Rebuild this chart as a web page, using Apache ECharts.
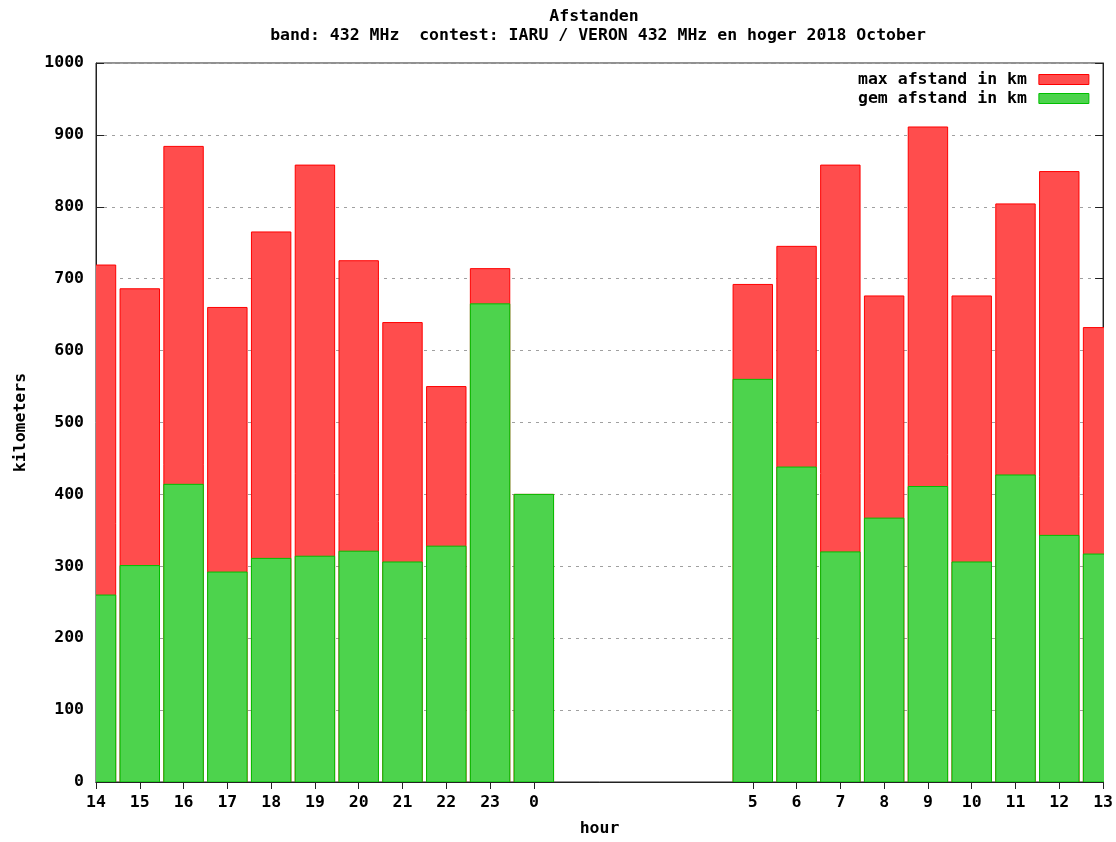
<!DOCTYPE html>
<html>
<head>
<meta charset="utf-8">
<script src="https://cdn.jsdelivr.net/npm/echarts@6/dist/echarts.min.js"></script>
<style>
html,body{margin:0;padding:0;background:#fff;overflow:hidden;}
#chart{width:1116px;height:842px;}
</style>
</head>
<body>
<div id="chart"></div>
<script>
// hours on the x axis (hours 1-4 have no data)
var hours = ['14','15','16','17','18','19','20','21','22','23','0','1','2','3','4','5','6','7','8','9','10','11','12','13'];
// max afstand in km
var maxAfstand = [719, 686, 884, 660, 765, 858, 725, 639, 550, 714, 400, null, null, null, null, 692, 745, 858, 676, 911, 676, 804, 849, 632];
// gem afstand in km
var gemAfstand = [260, 301, 414, 292, 311, 314, 321, 306, 328, 665, 400, null, null, null, null, 560, 438, 320, 367, 411, 306, 427, 343, 317];
var yTicks = [0, 100, 200, 300, 400, 500, 600, 700, 800, 900, 1000];

var FONT = 'DejaVu Sans Mono';
var txt = {fontFamily: FONT, fontWeight: 'bold', fontSize: 16.5, color: '#000'};

var RED = {color: '#ff4d4d', borderColor: '#ff0000', borderWidth: 1};
var GREEN = {color: '#4dd34d', borderColor: '#00c000', borderWidth: 1};

function hasData(i) { return maxAfstand[i] !== null; }
function pairs(arr) {
  var out = [];
  arr.forEach(function (v, i) { if (v !== null) out.push([i, v]); });
  return out;
}
function renderBar(params, api) {
  var idx = api.value(0);
  var val = api.value(1);
  var top = api.coord([idx, val]);
  var base = api.coord([idx, 0]);
  var w = api.size([1, 0])[0] * 0.9;
  return {
    type: 'rect',
    shape: {x: top[0] - w / 2, y: top[1], width: w, height: base[1] - top[1]},
    style: api.style()
  };
}

var chart = echarts.init(document.getElementById('chart'), null, {renderer: 'canvas'});
chart.setOption({
  animation: false,
  backgroundColor: '#fff',
  title: [
    {text: 'Afstanden', left: 589, top: 3, textAlign: 'center',
     textStyle: Object.assign({}, txt)},
    {text: 'band: 432 MHz  contest: IARU / VERON 432 MHz en hoger 2018 October', left: 593, top: 22, textAlign: 'center',
     textStyle: Object.assign({}, txt)}
  ],
  legend: {
    orient: 'vertical', left: 853, top: 66, align: 'right',
    itemWidth: 50, itemHeight: 10, itemGap: 2,
    textStyle: Object.assign({}, txt, {padding: [0, 7, 0, 0]}),
    data: [
      {name: 'max afstand in km', icon: 'rect', itemStyle: RED},
      {name: 'gem afstand in km', icon: 'rect', itemStyle: GREEN}
    ]
  },
  grid: {left: 96, top: 63, width: 1009, height: 722, show: true, borderColor: '#222', borderWidth: 1, containLabel: false},
  xAxis: [
    {
      type: 'category', data: hours, boundaryGap: false, position: 'bottom',
      name: 'hour', nameLocation: 'middle', nameGap: 38,
      nameTextStyle: Object.assign({}, txt),
      axisLine: {show: true, lineStyle: {color: '#222', width: 1}},
      axisTick: {show: true, inside: true, length: 7, interval: function (i) { return hasData(i); }, lineStyle: {color: '#222'}},
      axisLabel: Object.assign({}, txt, {margin: 12, interval: function (i) { return hasData(i); }}),
      splitLine: {show: false}
    },
    {
      type: 'category', data: hours, boundaryGap: false, position: 'top',
      axisLine: {show: true, lineStyle: {color: '#222', width: 1}},
      axisTick: {show: true, inside: true, length: 7, interval: function (i) { return hasData(i); }, lineStyle: {color: '#222'}},
      axisLabel: {show: false},
      splitLine: {show: false}
    }
  ],
  yAxis: [
    {
      type: 'value', min: 0, max: 1000, interval: 100, position: 'left',
      name: 'kilometers', nameLocation: 'middle', nameGap: 67, nameRotate: 90,
      nameTextStyle: Object.assign({}, txt),
      axisLine: {show: true, lineStyle: {color: '#222', width: 1}},
      axisTick: {show: true, inside: true, length: 8, lineStyle: {color: '#222'}},
      axisLabel: Object.assign({}, txt, {margin: 12, formatter: function (v) { return yTicks.indexOf(v) >= 0 ? String(v) : ''; }}),
      splitLine: {show: true, lineStyle: {color: '#a0a0a0', width: 1, type: [3, 5]}}
    },
    {
      type: 'value', min: 0, max: 1000, interval: 100, position: 'right',
      axisLine: {show: true, lineStyle: {color: '#222', width: 1}},
      axisTick: {show: true, inside: true, length: 8, lineStyle: {color: '#222'}},
      axisLabel: {show: false},
      splitLine: {show: false}
    }
  ],
  series: [
    {
      name: 'max afstand in km', type: 'custom', xAxisIndex: 0, yAxisIndex: 0,
      renderItem: renderBar, clip: true,
      encode: {x: 0, y: 1},
      data: pairs(maxAfstand),
      itemStyle: RED
    },
    {
      name: 'gem afstand in km', type: 'custom', xAxisIndex: 0, yAxisIndex: 0,
      renderItem: renderBar, clip: true,
      encode: {x: 0, y: 1},
      data: pairs(gemAfstand),
      itemStyle: GREEN
    }
  ]
});
</script>
</body>
</html>
